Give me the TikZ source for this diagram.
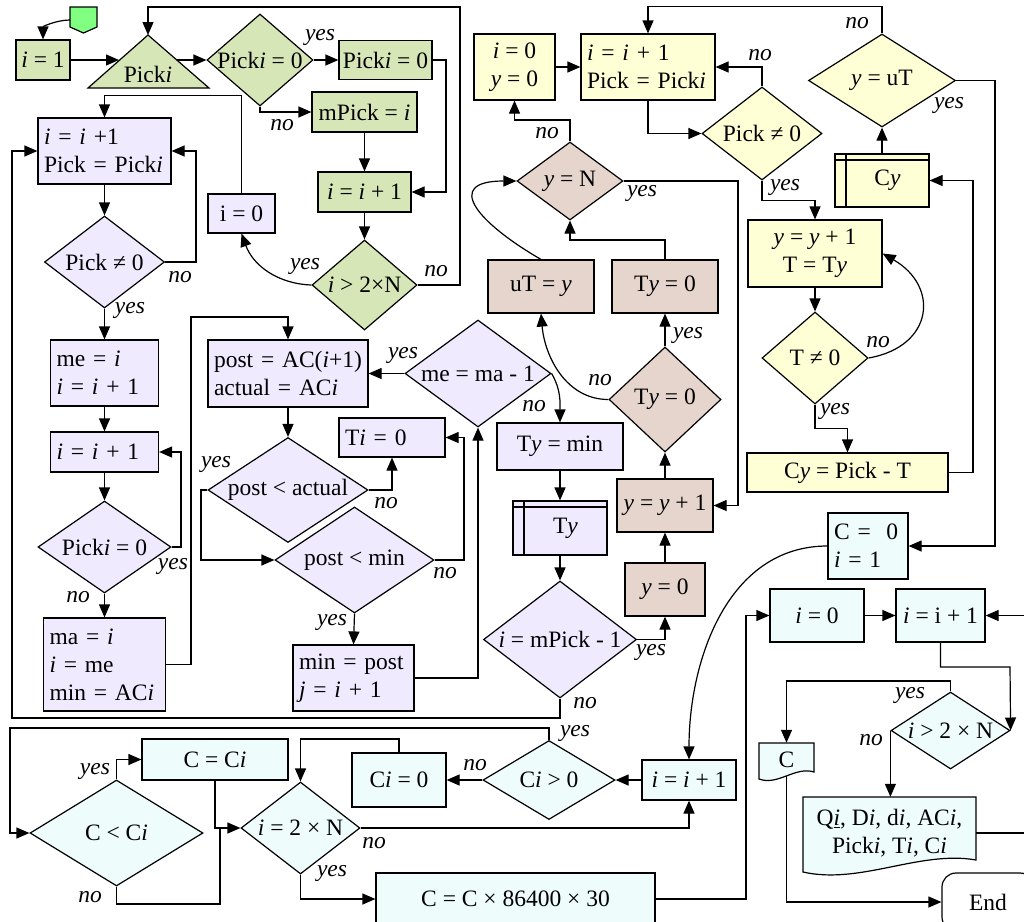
\documentclass[tikz,border=0pt]{standalone}
\usepackage{fontspec}
\setmainfont{Liberation Serif}
\usetikzlibrary{arrows.meta,shapes.geometric}
\definecolor{grncolor}{HTML}{D7E6B6}
\definecolor{lavcolor}{HTML}{F0EAFF}
\definecolor{yelcolor}{HTML}{FFFFD6}
\definecolor{brncolor}{HTML}{E6D5CC}
\definecolor{cyncolor}{HTML}{EEFCFC}
\definecolor{startcolor}{HTML}{80FF80}
\newcommand{\chartfont}{\fontsize{23.5pt}{28pt}\selectfont}
\newcommand{\vi}{\textit{i}}
\newcommand{\vy}{\textit{y}}
\newcommand{\ctr}[1]{\makebox[0pt]{#1}}
\tikzset{
  box/.style={draw, line width=1.2pt, inner sep=0pt},
  lbox/.style={box, align=left, inner xsep=6pt},
  dec/.style={draw, diamond, line width=1.2pt, inner sep=0pt},
  store/.style={box, path picture={
    \draw[line width=1.2pt] ([xshift=11pt]path picture bounding box.north west) -- ([xshift=11pt]path picture bounding box.south west)
      ([yshift=-6pt]path picture bounding box.north west) -- ([yshift=-6pt]path picture bounding box.north east);}},
  lab/.style={font=\chartfont\itshape},
  con/.style={line width=1.2pt},
  arr/.style={con, -{Triangle[length=13pt,width=11pt]}},
}
\begin{document}
\begin{tikzpicture}[x=1pt, y=-1pt, font=\chartfont]
  \path[use as bounding box, fill=white] (0,0) rectangle (1024,921);
  % green part
  \draw[con, fill=startcolor] (70,7) -- (97,7) -- (97,27) -- (83.5,33) -- (70,27) -- cycle;
  \coordinate (start) at (70,20);
  \draw[con, fill=grncolor] (148,35) -- (209,88) -- (88,88) -- cycle;
  \coordinate (triT) at (148,35); \coordinate (triL) at (119,60); \coordinate (triR) at (177,60);
  \node (tri) at (148,74) {Pick\vi};
  \node[box, fill=grncolor, minimum width=54pt, minimum height=40pt] (i1) at (43,60) {\vi{} = 1};
  \node[dec, fill=grncolor, minimum width=106pt, minimum height=92pt] (d1) at (260,60) {\ctr{Pick\vi{} = 0}};
  \node[box, fill=grncolor, minimum width=93pt, minimum height=39pt] (b2) at (385.5,60) {Pick\vi{} = 0};
  \node[box, fill=grncolor, minimum width=105pt, minimum height=40pt] (b3) at (364.5,112) {mPick = \vi};
  \node[box, fill=grncolor, minimum width=93pt, minimum height=40pt] (b4) at (364.5,192) {\vi{} = \vi{} + 1};
  \node[dec, fill=grncolor, minimum width=105pt, minimum height=90pt] (d2) at (364.5,285) {\ctr{\vi{} > 2×N}};
  % purple part
  \node[box, fill=lavcolor, minimum width=67pt, minimum height=39pt] (i0) at (241.5,213.5) {i = 0};
  \node[lbox, fill=lavcolor, text width=121pt, minimum height=66pt] (p1) at (104.5,151) {\vi{} = \vi{} +1\\Pick = Pick\vi};
  \node[dec, fill=lavcolor, minimum width=120pt, minimum height=92pt] (pd1) at (104.5,262) {\ctr{Pick ≠ 0}};
  \node[lbox, fill=lavcolor, text width=96pt, minimum height=66pt] (p2) at (104.5,373) {me = \vi\\\vi{} = \vi{} + 1};
  \node[lbox, fill=lavcolor, text width=96pt, minimum height=40pt] (p3) at (104.5,452) {\vi{} = \vi{} + 1};
  \node[dec, fill=lavcolor, minimum width=133pt, minimum height=92pt] (pd2) at (104.5,547) {\ctr{Pick\vi{} = 0}};
  \node[lbox, fill=lavcolor, text width=110pt, minimum height=93pt] (p4) at (104.5,664.5) {ma = \vi\\\vi{} = me\\min = AC\vi};
  \node[lbox, fill=lavcolor, text width=148pt, minimum height=67pt] (p5) at (288,373.5) {post = AC(\vi+1)\\actual = AC\vi};
  \node[dec, fill=lavcolor, minimum width=160pt, minimum height=105pt] (pd3) at (288,490) {\ctr{post < actual}};
  \node[lbox, fill=lavcolor, text width=94pt, minimum height=39pt] (p6) at (392,437.5) {T\vi{} = 0};
  \node[dec, fill=lavcolor, minimum width=159pt, minimum height=106pt] (pd4) at (354.5,560) {\ctr{post < min}};
  \node[lbox, fill=lavcolor, text width=109pt, minimum height=66pt] (p7) at (353.5,678) {min = post\\\textit{j} = \vi{} + 1};
  \node[dec, fill=lavcolor, minimum width=146pt, minimum height=107pt] (pd5) at (478,373.5) {\ctr{me = ma - 1}};
  \node[box, fill=lavcolor, minimum width=126pt, minimum height=47pt] (p8) at (560,446.5) {T\vy{} = min};
  \node[store, fill=lavcolor, minimum width=94pt, minimum height=54pt] (p9) at (560,528) {\hspace*{11pt}T\vy};
  \node[dec, fill=lavcolor, minimum width=153pt, minimum height=117pt] (pd6) at (560,639.5) {\ctr{\vi{} = mPick - 1}};
  % brown part
  \node[box, fill=brncolor, minimum width=80pt, minimum height=53pt] (r1) at (665,589.5) {\vy{} = 0};
  \node[box, fill=brncolor, minimum width=96pt, minimum height=53pt] (r2) at (665,505.5) {\vy{} = \vy{} + 1};
  \node[dec, fill=brncolor, minimum width=112pt, minimum height=105pt] (rd1) at (665,399.5) {\ctr{T\vy{} = 0}};
  \node[box, fill=brncolor, minimum width=106pt, minimum height=53pt] (r3) at (665,286.5) {T\vy{} = 0};
  \node[box, fill=brncolor, minimum width=106pt, minimum height=53pt] (r4) at (541,286.5) {uT = \vy};
  \node[dec, fill=brncolor, minimum width=106pt, minimum height=78pt] (rd2) at (570,181) {\ctr{\vy{} = N}};
  % yellow part
  \node[box, fill=yelcolor, align=center, minimum width=81pt, minimum height=66pt] (y1) at (514.5,67) {\vi{} = 0\\\vy{} = 0};
  \node[lbox, fill=yelcolor, text width=122pt, minimum height=66pt] (y2) at (648,67) {\vi{} = \vi{} + 1\\Pick = Pick\vi};
  \node[dec, fill=yelcolor, minimum width=120pt, minimum height=93pt] (yd1) at (762,133.5) {\ctr{Pick ≠ 0}};
  \node[box, fill=yelcolor, align=center, minimum width=134pt, minimum height=67pt] (y3) at (815,253.5) {\vy{} = \vy{} + 1\\T = T\vy};
  \node[dec, fill=yelcolor, minimum width=106pt, minimum height=92pt] (yd2) at (815,358) {\ctr{T ≠ 0}};
  \node[box, fill=yelcolor, minimum width=201pt, minimum height=39pt] (y4) at (847.5,472.5) {C\vy{} = Pick - T};
  \node[store, fill=yelcolor, minimum width=94pt, minimum height=53pt] (y5) at (882,180.5) {\hspace*{11pt}C\vy};
  \node[dec, fill=yelcolor, minimum width=147pt, minimum height=93pt] (yd3) at (882,80.5) {\ctr{\vy{} = uT}};
  % cyan part
  \node[lbox, fill=cyncolor, text width=68pt, minimum height=66pt] (c1) at (868,546) {C = \ 0\\\vi{} = 1};
  \node[box, fill=cyncolor, minimum width=94pt, minimum height=40pt] (c2) at (689,780) {\vi{} = \vi{} + 1};
  \node[dec, fill=cyncolor, minimum width=132pt, minimum height=79pt] (cd1) at (549,780) {\ctr{C\vi{} > 0}};
  \node[box, fill=cyncolor, minimum width=94pt, minimum height=54pt] (c3) at (399,780) {C\vi{} = 0};
  \node[dec, fill=cyncolor, minimum width=173pt, minimum height=106pt] (cd2) at (116.5,833) {\ctr{C < C\vi}};
  \node[box, fill=cyncolor, minimum width=146pt, minimum height=41pt] (c4) at (215,759.5) {C = C\vi};
  \node[dec, fill=cyncolor, minimum width=119pt, minimum height=92pt] (cd3) at (300.5,828) {\ctr{\vi{} = 2 × N}};
  \node[box, fill=cyncolor, minimum width=279pt, minimum height=52pt] (c5) at (515.5,899) {C = C × 86400 × 30};
  \node[box, fill=cyncolor, minimum width=94pt, minimum height=53pt] (c6) at (817,615.5) {\vi{} = 0};
  \node[box, fill=cyncolor, minimum width=89pt, minimum height=53pt] (c7) at (940.5,615.5) {\vi{} = i + 1};
  \node[dec, fill=cyncolor, minimum width=119pt, minimum height=77pt] (cd4) at (950.5,730.5) {\ctr{\vi{} > 2 × N}};
  % output documents and end
  \draw[con, fill=cyncolor] (759,743) -- (814,743) -- (814,772) .. controls (795,766) and (778,786) .. (759,779) -- cycle;
  \node[minimum width=55pt, minimum height=33pt, inner sep=0pt] (outc) at (786.5,759.5) {C};
  \draw[con, fill=cyncolor] (803,797) -- (976,797) -- (976,860) .. controls (920,850) and (860,885) .. (803,872) -- cycle;
  \node[align=center, minimum width=173pt, minimum height=72pt, inner sep=0pt] (outq) at (889.5,833) {Q\underline{\vi}, D\vi, d\vi, AC\vi,\\Pick\vi, T\vi, C\vi};
  \node[box, rounded corners=14pt, fill=white, minimum width=92pt, minimum height=58pt] (endn) at (988,902) {End};
  % green connectors
  \draw[arr] (start) to[out=180,in=90] (i1.north);
  \draw[arr] (i1.east) -- (triL);
  \draw[arr] (triR) -- (d1.west);
  \draw[arr] (d1.east) -- (b2.west);
  \draw[arr] (d1.south) |- (b3.west);
  \draw[arr] (b2.east) -| (446,192) -- (b4.east);
  \draw[arr] (b3.south) -- (b4.north);
  \draw[arr] (b4.south) -- (d2.north);
  \draw[arr] (d2.west) to[out=178,in=-70] (i0.south);
  \draw[arr] (d2.east) -| (460,7) -| (triT);
  % purple connectors
  \draw[arr] (i0.north) -- ++(0,-98) -| (p1.north);
  \draw[arr] (p1.south) -- (pd1.north);
  \draw[arr] (pd1.east) -| (196,151) -- (p1.east);
  \draw[arr] (pd1.south) -- (p2.north);
  \draw[arr] (p2.south) -- (p3.north);
  \draw[arr] (p3.south) -- (pd2.north);
  \draw[arr] (pd2.east) -| (181,452) -- (p3.east);
  \draw[arr] (pd2.south) -- (p4.north);
  \draw[arr] (p4.east) -| (191,317) -| (p5.north);
  \draw[arr] (p5.south) -- (pd3.north);
  \draw[arr] (pd3.east) -| (p6.south);
  \draw[arr] (pd3.west) -| (201,560) -- (pd4.west);
  \draw[arr] (pd4.east) -| (464,437.5) -- (p6.east);
  \draw[arr] (pd4.south) -- (p7.north);
  \draw[arr] (p7.east) -| (pd5.south);
  \draw[arr] (pd5.west) -- (p5.east);
  \draw[arr] (pd5.east) to[out=-60,in=90] (p8.north);
  \draw[arr] (p8.south) -- (p9.north);
  \draw[arr] (p9.south) -- (pd6.north);
  \draw[arr] (pd6.east) -| (r1.south);
  \draw[arr] (pd6.south) |- (12,718) |- (p1.west);
  % brown connectors
  \draw[arr] (r1.north) -- (r2.south);
  \draw[arr] (r2.north) -- (rd1.south);
  \draw[arr] (rd1.north) -- (r3.south);
  \draw[arr] (rd1.west) to[out=180,in=-85] (r4.south);
  \draw[arr] (r3.north) |- (570,240) -- (rd2.south);
  \draw[arr] (r4.north) to[out=150,in=180,looseness=2.3] (rd2.west);
  \draw[arr] (rd2.north) |- (514.5,120) -- (y1.south);
  \draw[arr] (rd2.east) -| (738,505.5) -- (r2.east);
  % yellow connectors
  \draw[arr] (y1.east) -- (y2.west);
  \draw[arr] (y2.south) |- (yd1.west);
  \draw[arr] (yd1.north) |- (y2.east);
  \draw[arr] (yd1.south) -- ++(0,20) -| (y3.north);
  \draw[arr] (y3.south) -- (yd2.north);
  \draw[arr] (yd2.east) to[out=10,in=-30,looseness=1.6] (y3.east);
  \draw[arr] (yd2.south) -- ++(0,24) -| (y4.north);
  \draw[arr] (y4.east) -| (973,180.5) -- (y5.east);
  \draw[arr] (y5.north) -- (yd3.south);
  \draw[arr] (yd3.north) -- ++(0,-27) -| (y2.north);
  \draw[arr] (yd3.east) -| (995,546) -- (c1.east);
  % cyan connectors
  \draw[arr] (c1.west) to[out=180,in=90] (c2.north);
  \draw[arr] (c2.west) -- (cd1.east);
  \draw[arr] (cd1.west) -- (c3.east);
  \draw[arr] (cd1.north) |- (10,728) |- (cd2.west);
  \draw[arr] (c3.north) |- (300.5,739) -- (cd3.north);
  \draw[arr] (cd2.north) |- (c4.west);
  \draw[arr] (c4.south) |- (cd3.west);
  \draw[con] (cd2.south) |- (220,904) -- (220,828);
  \draw[arr] (cd3.east) -| (c2.south);
  \draw[arr] (cd3.south) |- (c5.west);
  \draw[arr] (c5.east) -| (746,615.5) -- (c6.west);
  \draw[arr] (c6.east) -- (c7.west);
  \draw[arr] (c7.south) |- (1010,667) -- (cd4.east);
  \draw[arr] (cd4.north) |- (786.5,681) -- (outc.north);
  \draw[arr] (cd4.west) -- (cd4.west |- outq.north);
  \draw[arr] (outc.south) |- (endn.west);
  \draw[arr] (outq.east) -| (1040,615.5) -- (c7.east);
  % yes / no labels
  \foreach \lx/\ly/\lt in {320/37/yes, 282/125/no, 305/266/yes, 436/271/no,
      180/277/no, 130/310/yes, 173/566/yes, 78/597/no, 216/464/yes, 386/503/no,
      445/573/no, 332/622/yes, 403/355/yes, 534/406/no, 651/652/yes, 585/703/no,
      688/335/yes, 600/380/no, 547/133/no, 642/193/yes,
      760/55/no, 785/187/yes, 857/23/no, 949/105/yes, 878/342/no, 835/411/yes,
      575/733/yes, 475/765/no, 95/771/yes, 90/897/no, 374/843/no, 332/873/yes,
      910/695/yes, 871/740/no}
    \node[lab] (l-\lx-\ly) at (\lx,\ly) {\lt};
\end{tikzpicture}
\end{document}
